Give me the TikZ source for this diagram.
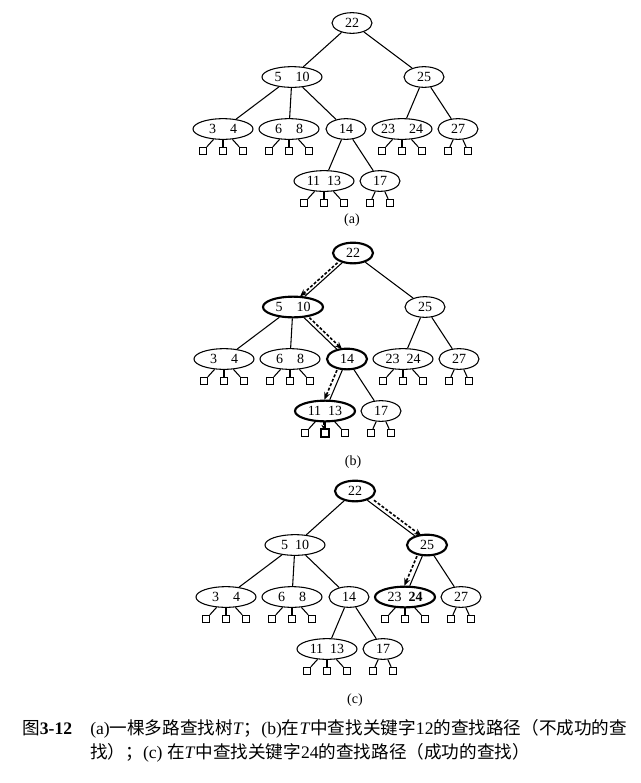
\documentclass[tikz,border=0pt]{standalone}
\usepackage{fontspec}
\setmainfont{Liberation Serif}
\newfontfamily\cjk{Noto Sans CJK SC}
\usetikzlibrary{shapes.geometric,arrows.meta}

\tikzset{
    key/.style={ellipse, draw, line width=0.8pt, minimum width=30pt, minimum height=15.5pt, inner sep=0pt, font=\fontsize{10.5}{12}\selectfont},
    keys/.style={key, minimum width=45pt},
    hit/.style={line width=1.6pt},
    leaf/.style={rectangle, draw, line width=0.8pt, minimum size=5.5pt, inner sep=0pt},
    edge/.style={line width=0.8pt},
    searcharrow/.style={line width=1.2pt, dash pattern=on 2.2pt off 1.4pt, -{Stealth[length=5.5pt,width=4.5pt]}},
    sublabel/.style={font=\fontsize{10.5}{12}\selectfont},
    caption/.style={anchor=base west, inner sep=0pt, font=\fontsize{13.2}{15}\selectfont}
}

\begin{document}
\begin{tikzpicture}[x=0.75pt, y=-0.75pt]
    \useasboundingbox (0,0) rectangle (640,783);

    % Baum (a)
    \begin{scope}[shift={(352,23)}]
        \node[key]  (a22)   at (0,0)      {22};
        \node[keys] (a510)  at (-60,54)   {5\quad10};
        \node[key]  (a25)   at (72,54)    {25};
        \node[keys] (a34)   at (-129,106) {3\quad4};
        \node[keys] (a68)   at (-63,106)  {6\quad8};
        \node[key]  (a14)   at (-6,106)   {14};
        \node[keys] (a2324) at (50,106)   {23\quad24};
        \node[key]  (a27)   at (106,106)  {27};
        \node[keys] (a1113) at (-28,158)  {11\enspace13};
        \node[key]  (a17)   at (28,158)   {17};
        \foreach \p/\c in {22/510,22/25,510/34,510/68,510/14,25/2324,25/27,14/1113,14/17}
            \draw[edge] (a\p) -- (a\c);
        \foreach \n in {34,68,2324,1113}
            \foreach \dx [count=\i] in {-20,0,20} {
                \node[leaf] (a\n-\i) at ([shift={(\dx,22)}]a\n) {};
                \draw[edge] (a\n) -- (a\n-\i);
            }
        \foreach \n in {27,17}
            \foreach \dx [count=\i] in {-10,10} {
                \node[leaf] (a\n-\i) at ([shift={(\dx,22)}]a\n) {};
                \draw[edge] (a\n) -- (a\n-\i);
            }
        \node[sublabel] (alabel) at (0,197) {(a)};
    \end{scope}

    % Baum (b): Suche nach 12
    \begin{scope}[shift={(353,253)}]
        \node[key, hit]  (b22)   at (0,0)      {22};
        \node[keys, hit] (b510)  at (-60,54)   {5\quad10};
        \node[key]       (b25)   at (72,54)    {25};
        \node[keys]      (b34)   at (-129,106) {3\quad4};
        \node[keys]      (b68)   at (-63,106)  {6\quad8};
        \node[key, hit]  (b14)   at (-6,106)   {14};
        \node[keys]      (b2324) at (50,106)   {23\enspace24};
        \node[key]       (b27)   at (106,106)  {27};
        \node[keys, hit] (b1113) at (-28,158)  {11\enspace13};
        \node[key]       (b17)   at (28,158)   {17};
        \foreach \p/\c in {22/510,22/25,510/34,510/68,510/14,25/2324,25/27,14/1113,14/17}
            \draw[edge] (b\p) -- (b\c);
        \foreach \n in {34,68,2324,1113}
            \foreach \dx [count=\i] in {-20,0,20} {
                \node[leaf] (b\n-\i) at ([shift={(\dx,22)}]b\n) {};
                \draw[edge] (b\n) -- (b\n-\i);
            }
        \foreach \n in {27,17}
            \foreach \dx [count=\i] in {-10,10} {
                \node[leaf] (b\n-\i) at ([shift={(\dx,22)}]b\n) {};
                \draw[edge] (b\n) -- (b\n-\i);
            }
        \draw[hit] (b1113-2.south west) rectangle (b1113-2.north east);
        \draw[searcharrow, transform canvas={xshift=-3.5pt}] (b22) -- (b510);
        \draw[searcharrow, transform canvas={xshift=4pt}] (b510) -- (b14);
        \draw[searcharrow, transform canvas={xshift=-4pt}] (b14) -- (b1113);
        \draw[searcharrow, -{Stealth[length=3pt,width=3pt]}, transform canvas={xshift=-1.2pt}] (b1113) -- (b1113-2);
        \node[sublabel] (blabel) at (0,209) {(b)};
    \end{scope}

    % Baum (c): Suche nach 24
    \begin{scope}[shift={(355,491)}]
        \node[key, hit]  (c22)   at (0,0)      {22};
        \node[keys]      (c510)  at (-60,54)   {5\enspace10};
        \node[key, hit]  (c25)   at (72,54)    {25};
        \node[keys]      (c34)   at (-129,106) {3\quad4};
        \node[keys]      (c68)   at (-63,106)  {6\quad8};
        \node[key]       (c14)   at (-6,106)   {14};
        \node[keys, hit] (c2324) at (50,106)   {23\enspace\textbf{24}};
        \node[key]       (c27)   at (106,106)  {27};
        \node[keys]      (c1113) at (-28,158)  {11\enspace13};
        \node[key]       (c17)   at (28,158)   {17};
        \foreach \p/\c in {22/510,22/25,510/34,510/68,510/14,25/2324,25/27,14/1113,14/17}
            \draw[edge] (c\p) -- (c\c);
        \foreach \n in {34,68,2324,1113}
            \foreach \dx [count=\i] in {-20,0,20} {
                \node[leaf] (c\n-\i) at ([shift={(\dx,22)}]c\n) {};
                \draw[edge] (c\n) -- (c\n-\i);
            }
        \foreach \n in {27,17}
            \foreach \dx [count=\i] in {-10,10} {
                \node[leaf] (c\n-\i) at ([shift={(\dx,22)}]c\n) {};
                \draw[edge] (c\n) -- (c\n-\i);
            }
        \draw[searcharrow, transform canvas={xshift=5pt}] (c22) -- (c25);
        \draw[searcharrow, transform canvas={xshift=-4pt}] (c25) -- (c2324);
        \node[sublabel] (clabel) at (0,209) {(c)};
    \end{scope}

    % Bildunterschrift
    \node[caption] (figno) at (22,734) {{\cjk 图}\textbf{3-12}};
    \node[caption] (capline1) at (90,734) {(a){\cjk 一棵多路查找树}\textit{T}{\cjk ；}(b){\cjk 在}\textit{T}{\cjk 中查找关键字}12{\cjk 的查找路径（不成功的查}};
    \node[caption] (capline2) at (90,758) {{\cjk 找）；}(c) {\cjk 在}\textit{T}{\cjk 中查找关键字}24{\cjk 的查找路径（成功的查找）}};
\end{tikzpicture}
\end{document}
